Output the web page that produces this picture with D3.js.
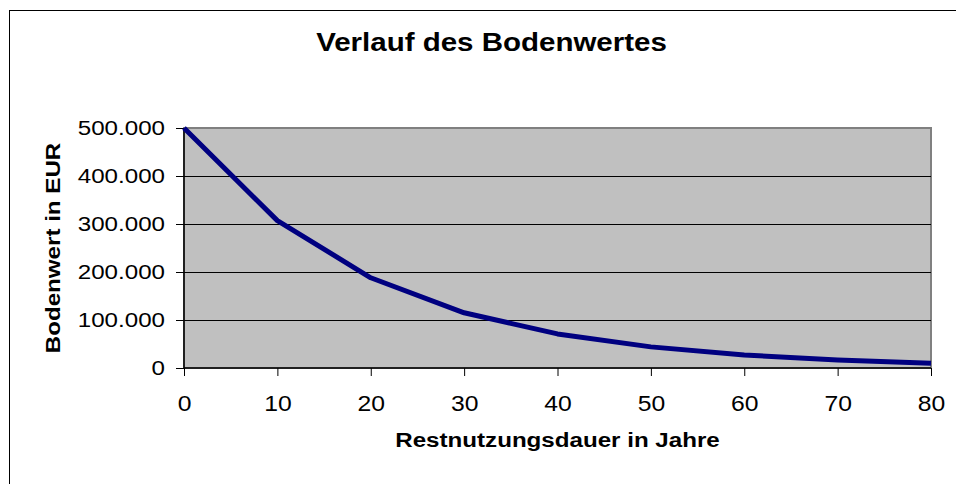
<!DOCTYPE html>
<html>
<head>
<meta charset="utf-8">
<script src="https://cdn.jsdelivr.net/npm/d3@7"></script>
<style>
  html, body { margin: 0; padding: 0; background: #fff; }
  svg text { font-family: "Liberation Sans", Arial, sans-serif; fill: #000; }
</style>
</head>
<body>
<svg id="chart" width="956" height="484"></svg>
<script>
const years = [0, 10, 20, 30, 40, 50, 60, 70, 80];
const bodenwert = [500000, 307000, 188000, 115000, 71000, 44000, 27000, 16500, 10000];
const xTicks = [0, 10, 20, 30, 40, 50, 60, 70, 80];
const yTicks = [0, 100000, 200000, 300000, 400000, 500000];
const chartTitle = "Verlauf des Bodenwertes";
const xTitle = "Restnutzungsdauer in Jahre";
const yTitle = "Bodenwert in EUR";

const svg = d3.select("#chart");
const W = 956, H = 484;
const m = { left: 184, right: 956 - 931, top: 128, bottom: 484 - 368 };
const SX = 1.15; // horizontal stretch of the text in the reference

// outer frame
svg.append("rect").attr("x", 9.5).attr("y", 10.5).attr("width", 960).attr("height", 500)
  .attr("fill", "#fff").attr("stroke", "#000").attr("stroke-width", 1);

const x = d3.scaleLinear().domain([0, 80]).range([m.left, W - m.right]);
const y = d3.scaleLinear().domain([0, 500000]).range([H - m.bottom, m.top]);

// plot area
svg.append("rect")
  .attr("x", x(0)).attr("y", y(500000))
  .attr("width", x(80) - x(0)).attr("height", y(0) - y(500000))
  .attr("fill", "#c0c0c0").attr("stroke", "#808080").attr("stroke-width", 2);

// gridlines
svg.append("g").selectAll("line").data(yTicks.filter(d => d > 0 && d < 500000)).join("line")
  .attr("x1", x(0)).attr("x2", x(80))
  .attr("y1", d => Math.round(y(d)) + 0.5).attr("y2", d => Math.round(y(d)) + 0.5)
  .attr("stroke", "#000").attr("stroke-width", 1);

const fmt = v => d3.format(",")(v).replace(/,/g, ".");

// y axis
const yAxis = d3.axisLeft(y).tickValues(yTicks).tickFormat(fmt).tickSize(8).tickPadding(10);
const gy = svg.append("g").attr("transform", `translate(${x(0)},0)`).call(yAxis);
gy.select(".domain").attr("stroke", "#000").attr("stroke-width", 1.5).attr("d", `M0,${y(500000)}V${y(0)}`);
gy.selectAll(".tick line").attr("stroke", "#000");
gy.selectAll("text").attr("font-size", 21).attr("x", 0)
  .attr("transform", `translate(-19,0) scale(${SX},1)`)
  .style("font-family", '"Liberation Sans", Arial, sans-serif');

// x axis
const xAxis = d3.axisBottom(x).tickValues(xTicks).tickFormat(d3.format("d")).tickSize(8).tickPadding(20);
const gx = svg.append("g").attr("transform", `translate(0,${y(0)})`).call(xAxis);
gx.select(".domain").attr("stroke", "#000").attr("stroke-width", 1.5).attr("d", `M${x(0)},0H${x(80)}`);
gx.selectAll(".tick line").attr("stroke", "#000");
gx.selectAll("text").attr("font-size", 21.5)
  .attr("transform", `scale(${SX},1)`)
  .style("font-family", '"Liberation Sans", Arial, sans-serif');

// line
const line = d3.line().x((d, i) => x(years[i])).y(d => y(d));
svg.append("path").datum(bodenwert).attr("d", line)
  .attr("fill", "none").attr("stroke", "#000080").attr("stroke-width", 5)
  .attr("stroke-linejoin", "round");

// titles
svg.append("text").attr("transform", `translate(491.5,51) scale(1.18,1)`).attr("text-anchor", "middle")
  .attr("font-size", 25).attr("font-weight", "bold").text(chartTitle);
svg.append("text").attr("transform", `translate(557.5,447) scale(${SX},1)`).attr("text-anchor", "middle")
  .attr("font-size", 21).attr("font-weight", "bold").text(xTitle);
svg.append("text").attr("transform", `translate(60,${(y(0) + y(500000)) / 2}) rotate(-90) scale(${SX},1)`)
  .attr("text-anchor", "middle")
  .attr("font-size", 21).attr("font-weight", "bold").text(yTitle);
</script>
</body>
</html>
